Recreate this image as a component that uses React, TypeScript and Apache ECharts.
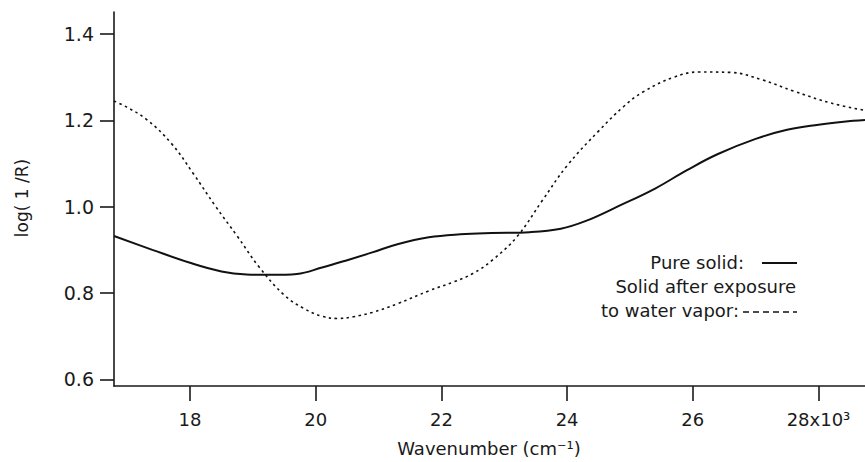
import React, { useEffect, useRef } from "react";
import * as echarts from "echarts";

// Wavenumber (x10^3 cm^-1) and log(1/R) values
const pureX = [16.79, 17.4, 18.0, 18.5, 18.9, 19.3, 19.7, 20.1, 20.5, 20.9, 21.3, 21.8, 22.3, 22.8, 23.4, 23.9, 24.3, 24.8, 25.4, 25.9, 26.4, 27.0, 27.5, 28.0, 28.4, 28.74];
const pureY = [0.932, 0.900, 0.870, 0.850, 0.843, 0.842, 0.844, 0.859, 0.876, 0.894, 0.913, 0.929, 0.936, 0.939, 0.941, 0.949, 0.967, 1.000, 1.042, 1.084, 1.122, 1.157, 1.178, 1.190, 1.197, 1.201];

const wetX = [16.79, 17.0, 17.3, 17.7, 18.05, 18.4, 18.75, 19.1, 19.5, 19.8, 20.1, 20.35, 20.6, 20.9, 21.3, 21.8, 22.2, 22.5, 22.8, 23.2, 23.6, 24.0, 24.5, 24.9, 25.2, 25.7, 26.1, 26.6, 27.1, 27.6, 28.2, 28.74];
const wetY = [1.245, 1.230, 1.203, 1.147, 1.077, 1.002, 0.932, 0.860, 0.795, 0.765, 0.746, 0.741, 0.745, 0.755, 0.775, 0.805, 0.826, 0.845, 0.875, 0.930, 1.013, 1.095, 1.175, 1.232, 1.265, 1.300, 1.312, 1.311, 1.294, 1.268, 1.240, 1.223];

const xTicks = [18, 20, 22, 24, 26, 28];
const yTicks = [0.6, 0.8, 1.0, 1.2, 1.4];

const xAxisName = "Wavenumber (cm⁻¹)";
const yAxisName = "log( 1 /R)";
const legendPure = "Pure solid:";
const legendWet1 = "Solid after exposure";
const legendWet2 = "to water vapor:";

const INK = "#1a1a1a";
const FONT = "DejaVu Sans";

export default function App() {
  const ref = useRef<HTMLDivElement>(null);
  useEffect(() => {
    if (!ref.current) return;
    const chart = echarts.init(ref.current, null, { renderer: "svg" });
    chart.setOption({
      animation: false,
      backgroundColor: "#fff",
      grid: { left: 114, right: 0, top: 12, bottom: 76 },
      xAxis: {
        type: "value",
        min: 16.79,
        max: 28.74,
        splitLine: { show: false },
        axisLine: { show: true, onZero: false, lineStyle: { color: INK, width: 1.6 } },
        axisTick: { show: true, customValues: xTicks, length: 15, lineStyle: { color: INK, width: 1.6 } },
        axisLabel: {
          customValues: xTicks,
          margin: 24,
          color: INK,
          fontFamily: FONT,
          fontSize: 18,
          formatter: (v: number) => (v === 28 ? "28x10³" : String(v)),
        },
      },
      yAxis: {
        type: "value",
        min: 0.5845,
        max: 1.451,
        splitLine: { show: false },
        axisLine: { show: true, onZero: false, lineStyle: { color: INK, width: 1.6 } },
        axisTick: { show: true, customValues: yTicks, length: 14, lineStyle: { color: INK, width: 1.6 } },
        axisLabel: {
          customValues: yTicks,
          margin: 20,
          color: INK,
          fontFamily: FONT,
          fontSize: 19,
          formatter: (v: number) => v.toFixed(1),
        },
      },
      series: [
        {
          name: "Pure solid",
          type: "line",
          data: pureX.map((x, i) => [x, pureY[i]]),
          showSymbol: false,
          smooth: 0.4,
          lineStyle: { color: "#111", width: 2 },
        },
        {
          name: "Solid after exposure to water vapor",
          type: "line",
          data: wetX.map((x, i) => [x, wetY[i]]),
          showSymbol: false,
          smooth: 0.4,
          lineStyle: { color: "#111", width: 1.6, type: [2.5, 3.5] },
        },
      ],
      graphic: [
        {
          type: "text",
          x: 22,
          y: 198,
          rotation: Math.PI / 2,
          style: { text: yAxisName, align: "center", verticalAlign: "middle", fill: INK, fontFamily: FONT, fontSize: 17 },
        },
        {
          type: "text",
          x: 489,
          y: 448,
          style: { text: xAxisName, align: "center", verticalAlign: "middle", fill: INK, fontFamily: FONT, fontSize: 18 },
        },
        {
          type: "text",
          x: 744,
          y: 262,
          style: { text: legendPure, align: "right", verticalAlign: "middle", fill: INK, fontFamily: FONT, fontSize: 18 },
        },
        {
          type: "line",
          shape: { x1: 762, y1: 263, x2: 797, y2: 263 },
          style: { stroke: "#111", lineWidth: 2 },
        },
        {
          type: "text",
          x: 796,
          y: 286,
          style: { text: legendWet1, align: "right", verticalAlign: "middle", fill: INK, fontFamily: FONT, fontSize: 18 },
        },
        {
          type: "text",
          x: 739,
          y: 310,
          style: { text: legendWet2, align: "right", verticalAlign: "middle", fill: INK, fontFamily: FONT, fontSize: 18 },
        },
        {
          type: "line",
          shape: { x1: 743, y1: 312, x2: 797, y2: 312 },
          style: { stroke: "#111", lineWidth: 1.6, lineDash: [6, 4] },
        },
      ],
    });
    return () => chart.dispose();
  }, []);
  return <div ref={ref} style={{ width: 865, height: 462, position: "absolute", left: 0, top: 0 }} />;
}
